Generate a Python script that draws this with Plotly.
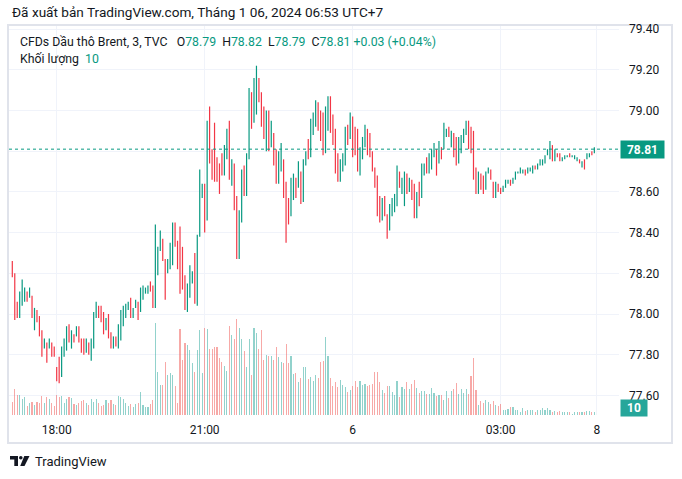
import plotly.graph_objects as go

# ---------------- data (3-minute candles, TVC Brent CFD) ----------------
opens = [
    78.26, 78.20, 78.06, 77.98, 78.04, 78.06, 78.11, 78.08, 78.09, 77.92,
    78.02, 77.99, 77.92, 77.83, 77.86, 77.83, 77.86, 77.84, 77.74, 77.79,
    77.69, 77.79, 77.82, 77.95, 77.83, 77.90, 77.89, 77.94, 77.88, 77.88,
    77.81, 77.86, 77.77, 77.83, 77.98, 78.04, 78.04, 78.01, 77.92, 78.00,
    77.91, 77.83, 77.89, 77.83, 77.87, 77.94, 77.98, 78.02, 78.08, 77.98,
    78.03, 78.06, 78.01, 78.07, 78.10, 78.10, 78.16, 78.14, 78.03, 78.19,
    78.31, 78.37, 78.27, 78.20, 78.22, 78.24, 78.45, 78.36, 78.43, 78.33,
    78.19, 78.01, 78.08, 78.15, 78.30, 78.04, 78.38, 78.57, 78.64, 78.46,
    79.02, 78.81, 78.94, 78.77, 78.74, 78.79, 78.68, 78.76, 78.95, 78.63,
    78.74, 78.58, 78.27, 78.45, 78.73, 78.58, 78.76, 79.09, 78.94, 78.98,
    79.16, 79.09, 79.02, 78.80, 79.00, 78.82, 78.89, 78.81, 78.64, 78.70,
    78.76, 78.65, 78.57, 78.48, 78.56, 78.67, 78.62, 78.70, 78.55, 78.73,
    78.86, 78.77, 78.88, 78.92, 79.04, 79.00, 78.99, 78.79, 78.90, 79.07,
    78.98, 78.91, 78.79, 78.65, 78.70, 78.73, 78.93, 78.86, 78.97, 78.92,
    78.91, 78.68, 78.76, 78.82, 78.91, 78.89, 78.80, 78.72, 78.68, 78.58,
    78.46, 78.58, 78.49, 78.41, 78.48, 78.50, 78.53, 78.70, 78.59, 78.53,
    78.69, 78.60, 78.66, 78.64, 78.47, 78.65, 78.57, 78.68, 78.77, 78.69,
    78.71, 78.77, 78.81, 78.74, 78.82, 78.81, 78.87, 78.92, 78.82, 78.89,
    78.87, 78.74, 78.79, 78.84, 78.88, 78.95, 78.92, 78.90, 78.72, 78.59,
    78.69, 78.68, 78.61, 78.69, 78.71, 78.65, 78.57, 78.64, 78.62, 78.60,
    78.62, 78.64, 78.66, 78.64, 78.66, 78.69, 78.69, 78.69, 78.71, 78.69,
    78.70, 78.69, 78.73, 78.71, 78.73, 78.73, 78.74, 78.78, 78.76, 78.83,
    78.75, 78.79, 78.79, 78.75, 78.76, 78.77, 78.79, 78.77, 78.76, 78.75,
    78.76, 78.72, 78.76, 78.76, 78.77, 78.80, 78.79,
]
highs = [
    78.26, 78.20, 78.06, 78.11, 78.17, 78.13, 78.11, 78.13, 78.09, 78.03,
    78.02, 77.99, 77.92, 77.88, 77.86, 77.88, 77.86, 77.84, 77.74, 77.79,
    77.84, 77.88, 77.94, 77.95, 77.92, 77.90, 77.94, 77.94, 77.88, 77.88,
    77.88, 77.86, 77.88, 78.01, 78.06, 78.04, 78.04, 78.01, 77.98, 78.00,
    77.91, 77.89, 77.89, 77.95, 78.02, 78.04, 78.05, 78.06, 78.08, 78.03,
    78.07, 78.06, 78.13, 78.14, 78.13, 78.14, 78.16, 78.14, 78.44, 78.33,
    78.41, 78.37, 78.27, 78.27, 78.35, 78.45, 78.45, 78.36, 78.43, 78.33,
    78.19, 78.15, 78.24, 78.21, 78.30, 78.39, 78.71, 78.64, 78.64, 78.95,
    79.02, 78.81, 78.94, 78.77, 78.74, 78.79, 78.83, 78.91, 78.95, 78.76,
    78.74, 78.58, 78.51, 78.71, 78.73, 78.79, 79.11, 79.09, 79.16, 79.22,
    79.16, 79.09, 79.02, 79.00, 79.00, 78.95, 78.89, 78.81, 78.80, 78.84,
    78.76, 78.65, 78.57, 78.67, 78.69, 78.67, 78.75, 78.70, 78.76, 78.80,
    78.86, 78.96, 78.99, 79.05, 79.04, 79.00, 78.99, 79.02, 79.07, 79.07,
    78.98, 78.91, 78.79, 78.76, 78.79, 78.92, 78.93, 78.99, 78.97, 78.92,
    78.91, 78.82, 78.87, 78.93, 78.91, 78.89, 78.80, 78.72, 78.68, 78.58,
    78.57, 78.58, 78.49, 78.54, 78.57, 78.59, 78.73, 78.70, 78.67, 78.70,
    78.69, 78.67, 78.66, 78.64, 78.60, 78.65, 78.74, 78.74, 78.77, 78.79,
    78.81, 78.84, 78.81, 78.85, 78.82, 78.94, 78.91, 78.92, 78.90, 78.89,
    78.87, 78.87, 78.88, 78.91, 78.95, 78.95, 78.92, 78.90, 78.72, 78.70,
    78.69, 78.68, 78.70, 78.72, 78.71, 78.65, 78.65, 78.64, 78.62, 78.63,
    78.66, 78.66, 78.66, 78.67, 78.70, 78.70, 78.72, 78.71, 78.71, 78.72,
    78.72, 78.73, 78.73, 78.74, 78.76, 78.76, 78.78, 78.81, 78.85, 78.83,
    78.81, 78.79, 78.79, 78.77, 78.78, 78.78, 78.79, 78.78, 78.78, 78.77,
    78.76, 78.75, 78.76, 78.79, 78.79, 78.80, 78.82,
]
lows = [
    78.18, 77.97, 77.98, 77.98, 78.04, 78.06, 78.06, 78.08, 77.98, 77.92,
    77.96, 77.89, 77.79, 77.83, 77.76, 77.83, 77.79, 77.79, 77.67, 77.66,
    77.69, 77.79, 77.82, 77.86, 77.83, 77.86, 77.89, 77.86, 77.81, 77.80,
    77.81, 77.80, 77.77, 77.83, 77.98, 77.98, 77.96, 77.90, 77.92, 77.88,
    77.83, 77.83, 77.84, 77.83, 77.87, 77.94, 77.98, 78.02, 77.98, 77.98,
    78.03, 77.97, 78.01, 78.07, 78.10, 78.10, 78.11, 78.03, 78.03, 78.19,
    78.31, 78.26, 78.07, 78.20, 78.22, 78.24, 78.33, 78.22, 78.10, 78.12,
    78.02, 78.01, 78.08, 78.15, 78.05, 78.04, 78.38, 78.57, 78.40, 78.46,
    78.74, 78.66, 78.65, 78.65, 78.59, 78.68, 78.68, 78.76, 78.66, 78.63,
    78.51, 78.27, 78.27, 78.45, 78.58, 78.58, 78.76, 78.91, 78.94, 78.98,
    79.04, 78.92, 78.86, 78.80, 78.80, 78.82, 78.73, 78.64, 78.64, 78.70,
    78.57, 78.35, 78.44, 78.48, 78.56, 78.57, 78.62, 78.54, 78.55, 78.73,
    78.76, 78.77, 78.88, 78.92, 78.90, 78.85, 78.78, 78.79, 78.90, 78.89,
    78.83, 78.69, 78.65, 78.65, 78.70, 78.73, 78.83, 78.86, 78.77, 78.78,
    78.70, 78.68, 78.76, 78.82, 78.78, 78.77, 78.70, 78.62, 78.48, 78.45,
    78.46, 78.48, 78.37, 78.41, 78.48, 78.50, 78.53, 78.62, 78.59, 78.53,
    78.59, 78.60, 78.56, 78.47, 78.47, 78.53, 78.57, 78.68, 78.69, 78.69,
    78.71, 78.77, 78.68, 78.74, 78.76, 78.81, 78.87, 78.87, 78.82, 78.77,
    78.73, 78.74, 78.79, 78.84, 78.88, 78.81, 78.79, 78.66, 78.59, 78.59,
    78.61, 78.59, 78.61, 78.69, 78.66, 78.57, 78.57, 78.60, 78.59, 78.60,
    78.62, 78.64, 78.63, 78.64, 78.66, 78.69, 78.69, 78.69, 78.68, 78.69,
    78.70, 78.69, 78.71, 78.71, 78.73, 78.73, 78.74, 78.78, 78.76, 78.75,
    78.75, 78.77, 78.75, 78.75, 78.76, 78.77, 78.77, 78.77, 78.76, 78.75,
    78.74, 78.72, 78.71, 78.76, 78.77, 78.78, 78.79,
]
closes = [
    78.18, 77.97, 77.98, 78.11, 78.17, 78.13, 78.06, 78.13, 77.98, 78.03,
    77.96, 77.89, 77.79, 77.88, 77.76, 77.88, 77.79, 77.79, 77.67, 77.66,
    77.84, 77.88, 77.94, 77.86, 77.92, 77.86, 77.94, 77.86, 77.81, 77.80,
    77.88, 77.80, 77.88, 78.01, 78.06, 77.98, 77.96, 77.90, 77.98, 77.88,
    77.83, 77.89, 77.84, 77.95, 78.02, 78.04, 78.05, 78.06, 77.98, 78.03,
    78.07, 77.97, 78.13, 78.14, 78.13, 78.14, 78.11, 78.03, 78.44, 78.33,
    78.41, 78.26, 78.07, 78.27, 78.35, 78.45, 78.33, 78.22, 78.10, 78.12,
    78.02, 78.15, 78.24, 78.21, 78.05, 78.39, 78.71, 78.64, 78.40, 78.95,
    78.74, 78.66, 78.65, 78.65, 78.59, 78.68, 78.83, 78.91, 78.66, 78.76,
    78.51, 78.27, 78.51, 78.71, 78.58, 78.79, 79.11, 78.91, 79.16, 79.22,
    79.04, 78.92, 78.86, 79.00, 78.80, 78.95, 78.73, 78.64, 78.80, 78.84,
    78.57, 78.35, 78.44, 78.67, 78.69, 78.57, 78.75, 78.54, 78.76, 78.80,
    78.76, 78.96, 78.99, 79.05, 78.90, 78.85, 78.78, 79.02, 79.07, 78.89,
    78.83, 78.69, 78.65, 78.76, 78.79, 78.92, 78.83, 78.99, 78.77, 78.78,
    78.70, 78.82, 78.87, 78.93, 78.78, 78.77, 78.70, 78.62, 78.48, 78.45,
    78.57, 78.48, 78.37, 78.54, 78.57, 78.59, 78.73, 78.62, 78.67, 78.70,
    78.59, 78.67, 78.56, 78.47, 78.60, 78.53, 78.74, 78.74, 78.69, 78.79,
    78.81, 78.84, 78.68, 78.85, 78.76, 78.94, 78.91, 78.87, 78.90, 78.77,
    78.73, 78.87, 78.88, 78.91, 78.95, 78.81, 78.79, 78.66, 78.59, 78.70,
    78.61, 78.59, 78.70, 78.72, 78.66, 78.57, 78.65, 78.60, 78.59, 78.63,
    78.66, 78.66, 78.63, 78.67, 78.70, 78.70, 78.72, 78.71, 78.68, 78.72,
    78.72, 78.73, 78.71, 78.74, 78.76, 78.76, 78.78, 78.81, 78.85, 78.75,
    78.81, 78.77, 78.75, 78.77, 78.78, 78.78, 78.77, 78.78, 78.78, 78.77,
    78.74, 78.75, 78.71, 78.79, 78.79, 78.78, 78.81,
]
volumes = [
    48, 96, 74, 74, 59, 67, 33, 44, 48, 37,
    48, 44, 70, 44, 67, 59, 44, 33, 74, 67,
    70, 44, 59, 67, 63, 41, 37, 44, 52, 56,
    44, 37, 59, 48, 59, 44, 34, 37, 57, 44,
    57, 41, 37, 71, 65, 59, 44, 35, 41, 28,
    41, 44, 86, 37, 28, 31, 41, 57, 340, 160,
    111, 111, 197, 148, 155, 148, 108, 44, 318, 205,
    266, 259, 242, 192, 158, 241, 314, 154, 323, 319,
    244, 244, 253, 253, 212, 197, 182, 164, 330, 296,
    282, 356, 323, 282, 238, 179, 282, 148, 323, 305,
    245, 316, 205, 223, 219, 219, 205, 253, 216, 197,
    194, 264, 194, 219, 152, 155, 122, 138, 179, 179,
    133, 142, 126, 148, 138, 196, 201, 290, 219, 138,
    108, 122, 105, 130, 111, 105, 86, 93, 108, 127,
    105, 127, 111, 115, 108, 112, 115, 160, 160, 122,
    93, 83, 107, 107, 86, 74, 126, 67, 104, 96,
    121, 96, 115, 130, 100, 81, 89, 89, 78, 78,
    100, 81, 71, 74, 74, 56, 89, 64, 89, 96,
    118, 78, 96, 81, 96, 78, 145, 211, 93, 37,
    52, 44, 57, 49, 42, 50, 37, 35, 41, 19,
    19, 22, 28, 30, 19, 19, 11, 25, 16, 19,
    19, 19, 11, 19, 19, 25, 19, 25, 19, 12,
    16, 12, 16, 12, 10, 12, 12, 4, 10, 12,
    10, 12, 10, 16, 14, 10, 10,
]
time_tick_index = [18, 78, 138, 198, 237]
time_tick_labels = ["18:00", "21:00", "6", "03:00", "8"]
price_ticks = [77.6, 77.8, 78.0, 78.2, 78.4, 78.6, 78.8, 79.0, 79.2, 79.4]

n = len(closes)
assert len(opens) == len(highs) == len(lows) == len(volumes) == n
idx = list(range(n))

# ---------------- styling ----------------
UP = "#089981"
DOWN = "#f23645"
VOL_UP = "rgba(38,166,154,0.5)"
VOL_DOWN = "rgba(239,83,80,0.5)"
TXT = "#131722"
GRID = "#f0f3fa"
FONT = "Roboto, 'Noto Sans', sans-serif"

W, H = 682, 479
L, R, T, B = 9, 619, 26, 415  # plot area in pixels


def px(x):
    return (x - L) / (R - L)


def py(y):
    return (B - y) / (B - T)


fig = go.Figure()

vol_colors = [VOL_UP if c >= o else VOL_DOWN for o, c in zip(opens, closes)]
fig.add_trace(go.Bar(
    x=idx, y=volumes, yaxis="y2", marker=dict(color=vol_colors, line=dict(width=0)),
    width=0.45, hoverinfo="skip", showlegend=False,
))

# At this zoom level each candle is drawn as a thin 1px line (body == wick)
fig.add_trace(go.Ohlc(
    x=idx, open=opens, high=highs, low=lows, close=closes,
    increasing=dict(line=dict(color=UP, width=1.2)),
    decreasing=dict(line=dict(color=DOWN, width=1.2)),
    tickwidth=0, showlegend=False,
))

last_o, last_h, last_l, last_c = opens[-1], highs[-1], lows[-1], closes[-1]
chg = last_c - closes[-2]
pct = chg / closes[-2] * 100
G = lambda s: f"<span style='color:{UP}'>{s}</span>"
nb = "\u00a0"
legend1 = (f"CFDs Dầu thô Brent, 3, TVC{nb}{nb}{nb}O{G(f'{last_o:.2f}')}{nb}{nb}H{G(f'{last_h:.2f}')}"
           f"{nb}{nb}L{G(f'{last_l:.2f}')}{nb}{nb}C{G(f'{last_c:.2f}')}{nb}"
           f"{G(f'{chg:+.2f} ({pct:+.2f}%)')}")
legend2 = f"Khối lượng{nb}{nb}{G(str(volumes[-1]))}"

annotations = [
    dict(text="Đã xuất bản TradingView.com, Tháng 1 06, 2024 06:53 UTC+7",
         x=px(10), y=py(12), xref="paper", yref="paper", xanchor="left", yanchor="middle",
         showarrow=False, font=dict(size=13.6, color=TXT, family=FONT)),
    dict(text=legend1, x=px(18), y=py(42), xref="paper", yref="paper", xanchor="left",
         yanchor="middle", showarrow=False, font=dict(size=12.3, color=TXT, family=FONT)),
    dict(text=legend2, x=px(18), y=py(59), xref="paper", yref="paper", xanchor="left",
         yanchor="middle", showarrow=False, font=dict(size=12.3, color=TXT, family=FONT)),
    dict(text=f"<b>{last_c:.2f}</b>", x=px(620), y=last_c, xref="paper", yref="y",
         xanchor="left", yanchor="middle", showarrow=False, bgcolor=UP, borderpad=0,
         width=43, height=17, font=dict(size=12, color="white", family=FONT)),
    dict(text=f"<b>{volumes[-1]}</b>", x=px(620), y=py(408), xref="paper", yref="paper",
         xanchor="left", yanchor="middle", showarrow=False, bgcolor="#26a69a", borderpad=0,
         width=26, height=16, font=dict(size=12, color="white", family=FONT)),
    dict(text="TradingView", x=px(33), y=py(461), xref="paper", yref="paper",
         xanchor="left", yanchor="middle", showarrow=False,
         font=dict(size=13, color=TXT, family=FONT)),
]


def path_px(points):
    return "M " + " L ".join(f"{px(x):.5f},{py(y):.5f}" for x, y in points) + " Z"


shapes = [
    # outer frame
    dict(type="rect", xref="paper", yref="paper", x0=px(8), x1=px(672), y0=py(25), y1=py(443),
         line=dict(color="#e0e3eb", width=2), fillcolor="rgba(0,0,0,0)", layer="below"),
    # last price dotted line
    dict(type="line", xref="paper", yref="y", x0=0, x1=1, y0=last_c, y1=last_c,
         line=dict(color=UP, width=1, dash="dot")),
    # TradingView logo
    dict(type="path", xref="paper", yref="paper",
         path=path_px([(10, 456), (18, 456), (18, 466), (14.3, 466), (14.3, 459.6), (10, 459.6)]),
         fillcolor=TXT, line=dict(width=0)),
    dict(type="circle", xref="paper", yref="paper", x0=px(19), x1=px(22.6), y0=py(456),
         y1=py(459.6), fillcolor=TXT, line=dict(width=0)),
    dict(type="path", xref="paper", yref="paper",
         path=path_px([(24.3, 456), (29.5, 456), (24.5, 466), (20.2, 466)]),
         fillcolor=TXT, line=dict(width=0)),
]

# hide the price label that the last-price badge covers (as the reference does)
tick_text = ["" if abs(v - last_c) < 0.06 else f"{v:.2f}" for v in price_ticks]

fig.update_layout(
    width=W, height=H, autosize=False,
    margin=dict(l=L, r=W - R, t=T, b=H - B, pad=0),
    paper_bgcolor="white", plot_bgcolor="white",
    showlegend=False, bargap=0,
    font=dict(family=FONT, color=TXT, size=12),
    xaxis=dict(range=[-1.34, 246.0], tickmode="array", tickvals=time_tick_index,
               ticktext=time_tick_labels, showgrid=True, gridcolor=GRID, gridwidth=1,
               zeroline=False, showline=False, ticks="", rangeslider=dict(visible=False),
               tickfont=dict(size=12, color=TXT), ticklabelstandoff=6),
    yaxis=dict(side="right", range=[77.5037, 79.4152], tickmode="array", tickvals=price_ticks,
               ticktext=tick_text, showgrid=True, gridcolor=GRID,
               gridwidth=1, zeroline=False, showline=False, ticks="",
               tickfont=dict(size=12, color=TXT), ticklabelstandoff=9),
    yaxis2=dict(overlaying="y", range=[0, 1439], visible=False, showgrid=False),
    annotations=annotations, shapes=shapes,
)

fig.write_html(
    "out.html",
    config={"displayModeBar": False},
    post_script="document.body.style.margin='0';document.body.style.overflow='hidden';",
)
